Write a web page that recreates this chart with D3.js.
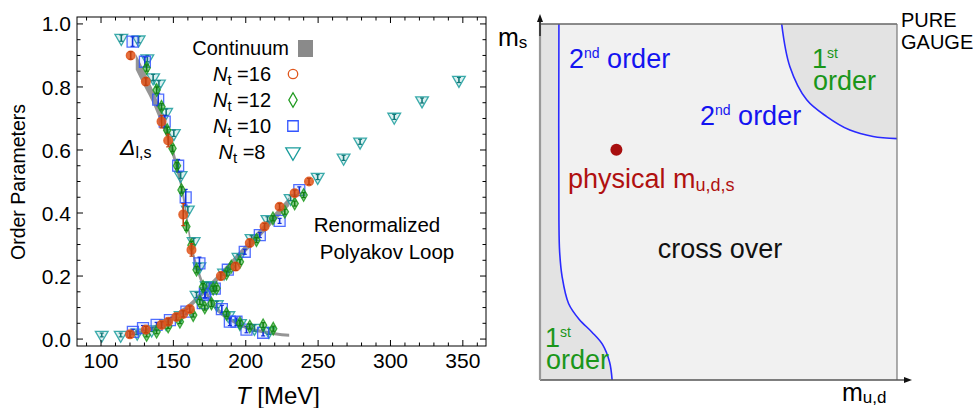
<!DOCTYPE html>
<html><head><meta charset="utf-8">
<script src="https://cdn.jsdelivr.net/npm/d3@7"></script>
<style>
body{margin:0;background:#fff;}
svg{display:block;font-family:"Liberation Sans",Arial,Helvetica,sans-serif;}
</style></head>
<body><svg id="c" width="978" height="408"></svg>
<script>
// ---------- data (left panel) ----------
const xTicks = [100,150,200,250,300,350];
const yTicks = [0.0,0.2,0.4,0.6,0.8,1.0];
const legendLabels = ["16","12","10","8"];

// continuum bands: [T, lower, upper]
const deltaBand = [[124,0.855,0.905],[130,0.8,0.85],[136,0.745,0.79],[140,0.7,0.745],[144,0.655,0.695],[148,0.6,0.64],[152,0.535,0.57],[155,0.48,0.515],[158,0.405,0.44],[160,0.345,0.38],[162,0.29,0.32],[165,0.235,0.26],[168,0.19,0.215],[172,0.145,0.165],[176,0.112,0.13],[180,0.088,0.104],[185,0.068,0.082],[190,0.054,0.066],[200,0.032,0.043],[210,0.02,0.03],[220,0.012,0.022],[230,0.007,0.017]];
const polyBand = [[120,0.01,0.022],[130,0.019,0.031],[140,0.036,0.05],[150,0.062,0.078],[160,0.093,0.11],[170,0.136,0.154],[180,0.18,0.2],[190,0.228,0.25],[200,0.276,0.3],[210,0.325,0.35],[220,0.374,0.4],[230,0.422,0.45]];

// series: [T, value, error]
const nt16Delta = [[120.5,0.90,0.012],[131,0.817,0.012],[141.8,0.69,0.02],[146.4,0.63,0.02],[156.8,0.395,0.035],[162.5,0.283,0.02]];
const nt16Poly = [[120,0.015,0.01],[131,0.03,0.01],[141.8,0.045,0.01],[146.4,0.055,0.01],[152,0.07,0.01],[156.8,0.08,0.01],[161.4,0.095,0.01],[182.8,0.2,0.012],[193,0.23,0.012],[202.8,0.305,0.012],[213,0.357,0.01],[223.4,0.42,0.01],[233.8,0.463,0.01],[243.7,0.5,0.01]];
const nt12Delta = [[131.5,0.86,0.01],[138.4,0.79,0.01],[141.8,0.737,0.01],[145.7,0.663,0.01],[149.4,0.605,0.01],[152.5,0.55,0.01],[155.6,0.473,0.01],[159,0.357,0.012],[162.5,0.298,0.012],[166,0.22,0.01],[170.5,0.166,0.01],[176.3,0.113,0.01],[186.7,0.08,0.008],[196,0.05,0.008],[202.8,0.04,0.008],[212,0.044,0.008],[219,0.033,0.008]];
const nt12Poly = [[131.5,0.013,0.006],[138.4,0.023,0.006],[146.4,0.04,0.006],[154.5,0.055,0.006],[163.7,0.076,0.006],[168.3,0.118,0.008],[171.7,0.1,0.008],[177.5,0.16,0.008],[179.8,0.161,0.008],[186.7,0.208,0.008],[190,0.23,0.008],[196,0.245,0.008],[207.4,0.314,0.008],[218.8,0.383,0.008],[227,0.404,0.008],[233.8,0.43,0.008],[240,0.457,0.008]];
const nt10Delta = [[121.8,0.944,0.015],[130.3,0.88,0.015],[139.5,0.76,0.02],[144,0.69,0.02],[153.3,0.55,0.02],[158.5,0.45,0.025],[168,0.24,0.02],[171.7,0.145,0.015],[183.5,0.095,0.012],[189,0.055,0.012],[193.6,0.055,0.012],[200.5,0.03,0.01],[212,0.02,0.01]];
const nt10Poly = [[122,0.023,0.008],[129,0.035,0.008],[138.4,0.045,0.008],[147.6,0.06,0.008],[159,0.087,0.008],[170.3,0.114,0.008],[172,0.14,0.008],[178.6,0.16,0.008],[187.6,0.22,0.008],[199.3,0.277,0.008],[209.7,0.33,0.008],[223.4,0.375,0.008],[237,0.473,0.01]];
const nt8Delta = [[114,0.955,0.01],[126,0.95,0.01],[132,0.89,0.01],[136,0.83,0.01],[140,0.81,0.01],[145,0.72,0.01],[150.3,0.653,0.01],[155,0.52,0.01],[160,0.41,0.01],[164,0.31,0.01],[168,0.23,0.01],[173,0.17,0.01],[180,0.11,0.01],[188,0.075,0.01],[196,0.05,0.01],[206,0.035,0.01],[216,0.025,0.01]];
const nt8Poly = [[100.5,0.013,0.006],[113.6,0.013,0.006],[125,0.02,0.006],[135,0.03,0.006],[145,0.05,0.006],[155,0.075,0.006],[166,0.14,0.008],[175,0.17,0.008],[185,0.21,0.008],[195,0.26,0.008],[204,0.32,0.008],[215,0.38,0.008],[231,0.447,0.008],[249.7,0.514,0.008],[267.6,0.575,0.008],[279,0.626,0.008],[302.6,0.705,0.008],[321.8,0.757,0.008],[347.3,0.822,0.008]];

// ---------- data (right panel, normalized schematic coords 0..1) ----------
const leftBoundary = [[0.053,1],[0.053,0.45],[0.055,0.36],[0.062,0.29],[0.08,0.215],[0.11,0.17],[0.145,0.135],[0.175,0.1],[0.195,0.05],[0.202,0]];
const topBoundary = [[0.677,1],[0.70,0.88],[0.747,0.787],[0.803,0.74],[0.868,0.702],[0.933,0.684],[1,0.678]];
const physicalPoint = [0.214,0.647];

const svg = d3.select("#c");

// ================= LEFT PANEL =================
const x = d3.scaleLinear().domain([83.4,366]).range([77,486]);
const y = d3.scaleLinear().domain([-0.022,1.022]).range([346,17]);
const L = svg.append("g");

// continuum bands
const area = d3.area().x(d=>x(d[0])).y0(d=>y(d[1])).y1(d=>y(d[2])).curve(d3.curveMonotoneX);
L.append("path").datum(deltaBand).attr("d",area).attr("fill","#8a8a8a").attr("opacity",0.9);
L.append("path").datum(polyBand).attr("d",area).attr("fill","#8a8a8a").attr("opacity",0.9);

const sym = {
  tri: d3.symbol().type(d3.symbolTriangle).size(70),
  sq: d3.symbol().type(d3.symbolSquare).size(120),
  dia: d3.symbol().type(d3.symbolDiamond).size(45),
  cir: d3.symbol().type(d3.symbolCircle).size(60)
};
const series = [
  {data:[nt8Delta,nt8Poly], shape:"tri", rot:180, stroke:"#1a9c9c", fill:"#1a9c9c", fo:0.15, bar:"#107878"},
  {data:[nt10Delta,nt10Poly], shape:"sq", rot:0, stroke:"#3355ff", fill:"#3355ff", fo:0.08, bar:"#1030e0"},
  {data:[nt12Delta,nt12Poly], shape:"dia", rot:0, stroke:"#1f9a1f", fill:"#2aa82a", fo:0.5, bar:"#128012"},
  {data:[nt16Delta,nt16Poly], shape:"cir", rot:0, stroke:"#e0561c", fill:"#e0561c", fo:0.85, bar:"#c04010"}
];
series.forEach(s=>{
  s.data.forEach(arr=>{
    const g = L.append("g");
    g.selectAll("path.m").data(arr).enter().append("path")
      .attr("d",sym[s.shape])
      .attr("transform",d=>`translate(${x(d[0])},${y(d[1])}) rotate(${s.rot})`)
      .attr("fill",s.fill).attr("fill-opacity",s.fo)
      .attr("stroke",s.stroke).attr("stroke-width",1.3).attr("stroke-opacity",0.85);
    g.selectAll("line.e").data(arr).enter().append("line")
      .attr("x1",d=>x(d[0])).attr("x2",d=>x(d[0]))
      .attr("y1",d=>y(d[1]-d[2])).attr("y2",d=>y(d[1]+d[2]))
      .attr("stroke",s.bar).attr("stroke-width",1.6);
    [-1,1].forEach(sg=>{
      g.selectAll("line.c"+sg).data(arr).enter().append("line")
        .attr("x1",d=>x(d[0])-2).attr("x2",d=>x(d[0])+2)
        .attr("y1",d=>y(d[1]+sg*d[2])).attr("y2",d=>y(d[1]+sg*d[2]))
        .attr("stroke",s.bar).attr("stroke-width",1.2);
    });
  });
});

// frame and ticks (inward, all sides)
L.append("rect").attr("x",77).attr("y",17).attr("width",409).attr("height",329)
  .attr("fill","none").attr("stroke","#000").attr("stroke-width",1);
const xMinor = d3.range(90,370,10);
const yMinor = d3.range(0,1.001,0.05);
const tk = L.append("g").attr("stroke","#000").attr("stroke-width",1);
xMinor.forEach(t=>{
  const major = t%50===0;
  const len = major?6:3.5;
  tk.append("line").attr("x1",x(t)).attr("x2",x(t)).attr("y1",346).attr("y2",346-len);
  tk.append("line").attr("x1",x(t)).attr("x2",x(t)).attr("y1",17).attr("y2",17+len);
});
yMinor.forEach(v=>{
  const k = Math.round(v*20);
  const len = (k%4===0)?6:3.5;
  tk.append("line").attr("x1",77).attr("x2",77+len).attr("y1",y(v)).attr("y2",y(v));
  tk.append("line").attr("x1",486).attr("x2",486-len).attr("y1",y(v)).attr("y2",y(v));
});
L.selectAll("text.xt").data(xTicks).enter().append("text")
  .attr("x",d=>x(d)).attr("y",368).attr("text-anchor","middle")
  .attr("font-size",21).text(d=>d);
L.selectAll("text.yt").data(yTicks).enter().append("text")
  .attr("x",71).attr("y",d=>y(d)).attr("dy","0.36em").attr("text-anchor","end")
  .attr("font-size",21).text(d=>d.toFixed(1));

// axis titles
const xl = L.append("text").attr("x",278).attr("y",404).attr("text-anchor","middle").attr("font-size",24);
xl.append("tspan").attr("font-style","italic").text("T");
xl.append("tspan").text(" [MeV]");
L.append("text").attr("transform","translate(25,182) rotate(-90)").attr("text-anchor","middle")
  .attr("font-size",19.5).text("Order Parameters");

// annotations
const dl = L.append("text").attr("x",120).attr("y",155).attr("font-size",23);
dl.append("tspan").attr("font-style","italic").text("Δ");
dl.append("tspan").attr("font-size",16).attr("dy",3).text("l,s");
L.append("text").attr("x",377).attr("y",232).attr("text-anchor","middle").attr("font-size",20.5).text("Renormalized");
L.append("text").attr("x",387).attr("y",259).attr("text-anchor","middle").attr("font-size",20.5).text("Polyakov Loop");

// legend
L.append("text").attr("x",289).attr("y",55).attr("text-anchor","end").attr("font-size",20).text("Continuum");
L.append("rect").attr("x",298).attr("y",40).attr("width",15).attr("height",17).attr("fill","#8a8a8a");
const legSeries = [series[3],series[2],series[1],series[0]];
legendLabels.forEach((lab,i)=>{
  const cy = 74 + i*26;
  const t = L.append("text").attr("x",242).attr("y",cy+7).attr("text-anchor","middle").attr("font-size",20);
  t.append("tspan").attr("font-style","italic").text("N");
  t.append("tspan").attr("font-size",15).attr("dy",4).text("t");
  t.append("tspan").attr("dy",-4).text(" =" + lab);
  const s = legSeries[i];
  const sz = {cir:70,dia:60,sq:110,tri:90}[s.shape];
  L.append("path").attr("d",d3.symbol().type({cir:d3.symbolCircle,dia:d3.symbolDiamond,sq:d3.symbolSquare,tri:d3.symbolTriangle}[s.shape]).size(sz))
    .attr("transform",`translate(293,${cy}) rotate(${s.rot})`)
    .attr("fill","none").attr("stroke",s.stroke).attr("stroke-width",1.3);
});

// ================= RIGHT PANEL =================
const R = svg.append("g");
const px = d3.scaleLinear().domain([0,1]).range([540,897]);
const py = d3.scaleLinear().domain([0,1]).range([380,24]);
R.append("rect").attr("x",px(0)).attr("y",py(1)).attr("width",px(1)-px(0)).attr("height",py(0)-py(1)).attr("fill","#f1f1f1");
const line = d3.line().x(d=>px(d[0])).y(d=>py(d[1])).curve(d3.curveCatmullRom);
// shaded regions
R.append("path").attr("d", line(leftBoundary) + `L${px(0)},${py(0)}L${px(0)},${py(1)}Z`).attr("fill","#e3e3e3");
R.append("path").attr("d", line(topBoundary) + `L${px(1)},${py(1)}Z`).attr("fill","#e3e3e3");
R.append("path").attr("d",line(leftBoundary)).attr("fill","none").attr("stroke","#2a2aff").attr("stroke-width",1.6);
R.append("path").attr("d",line(topBoundary)).attr("fill","none").attr("stroke","#2a2aff").attr("stroke-width",1.6);
// frame
R.append("line").attr("x1",px(0)).attr("x2",px(1)).attr("y1",py(1)).attr("y2",py(1)).attr("stroke","#666").attr("stroke-width",1.5);
R.append("line").attr("x1",px(1)).attr("x2",px(1)).attr("y1",py(1)).attr("y2",py(0)).attr("stroke","#777").attr("stroke-width",1.2);
R.append("line").attr("x1",px(0)).attr("x2",906).attr("y1",py(0)).attr("y2",py(0)).attr("stroke","#555").attr("stroke-width",1.6);
R.append("line").attr("x1",px(0)).attr("x2",px(0)).attr("y1",py(0)).attr("y2",18).attr("stroke","#999").attr("stroke-width",2.2);
R.append("line").attr("x1",px(0)).attr("x2",px(0)).attr("y1",36).attr("y2",18).attr("stroke","#222").attr("stroke-width",1.5);
R.append("path").attr("d",`M${px(0)-3},${22}L${px(0)},${14}L${px(0)+3},${22}Z`).attr("fill","#111");
R.append("path").attr("d",`M${904},${py(0)-3}L${912},${py(0)}L${904},${py(0)+3}Z`).attr("fill","#111");

// labels
const ms = R.append("text").attr("x",498).attr("y",46).attr("font-size",25);
ms.append("tspan").text("m");
ms.append("tspan").attr("font-size",17).attr("dy",2).text("s");
const mud = R.append("text").attr("x",842).attr("y",401).attr("font-size",25);
mud.append("tspan").text("m");
mud.append("tspan").attr("font-size",17).attr("dy",2).text("u,d");
const pg = R.append("text").attr("x",901).attr("y",27).attr("font-size",20);
pg.append("tspan").text("PURE");
pg.append("tspan").attr("x",901).attr("dy",22).text("GAUGE");

const BLUE = "#1414f0", GREEN = "#1a961a";
function ordinal(xp,yp,num,sup,rest,col,secondLine){
  const t = R.append("text").attr("x",xp).attr("y",yp).attr("font-size",27).attr("fill",col);
  t.append("tspan").text(num);
  t.append("tspan").attr("font-size",14).attr("dy",-10).text(sup);
  if(rest) t.append("tspan").attr("dy",10).text(rest);
  if(secondLine) t.append("tspan").attr("x",xp+1).attr("dy",rest?22:32).text(secondLine);
}
ordinal(569,68,"2","nd"," order",BLUE);
ordinal(700,125,"2","nd"," order",BLUE);
ordinal(812,68,"1","st","",GREEN,"order");
ordinal(545,347,"1","st","",GREEN,"order");

R.append("circle").attr("cx",px(physicalPoint[0])).attr("cy",py(physicalPoint[1])).attr("r",6).attr("fill","#a80f0f");
const ph = R.append("text").attr("x",568).attr("y",188).attr("font-size",27).attr("fill","#b01010");
ph.append("tspan").text("physical m");
ph.append("tspan").attr("font-size",18).attr("dy",3).text("u,d,s");
R.append("text").attr("x",720).attr("y",258).attr("text-anchor","middle").attr("font-size",27).attr("fill","#111").text("cross over");
</script></body></html>
